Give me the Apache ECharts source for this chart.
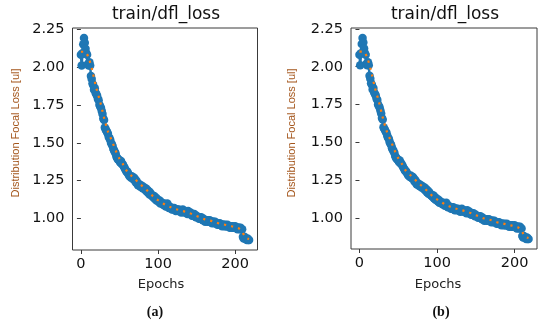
<!DOCTYPE html>
<html>
<head>
<meta charset="utf-8">
<script src="https://cdn.jsdelivr.net/npm/echarts@6/dist/echarts.min.js"></script>
<style>
html,body{margin:0;padding:0;background:#fff;}
#chart{width:550px;height:324px;}
</style>
</head>
<body>
<div id="chart"></div>
<script>
// ---- data ----
const chartTitle = "train/dfl_loss";
const yAxisTitle = "Distribution Focal Loss [ul]";
const xAxisTitle = "Epochs";
const panelCaptions = ["(a)", "(b)"];
const xTickValues = [0, 100, 200];
const yTickValues = [1.00, 1.25, 1.50, 1.75, 2.00, 2.25];

// raw train/dfl_loss per epoch (epoch = index)
const lossValues = [
  2.08, 2.01, 2.09, 2.15, 2.19, 2.16, 2.12, 2.09, 2.08, 2.02,
  2.01, 2.03, 2.01, 1.94, 1.92, 1.89, 1.88, 1.85, 1.86, 1.83,
  1.82, 1.81, 1.79, 1.78, 1.75, 1.74, 1.73, 1.71, 1.69, 1.66,
  1.65, 1.60, 1.59, 1.58, 1.57, 1.56, 1.54, 1.53, 1.52, 1.50,
  1.49, 1.48, 1.46, 1.45, 1.44, 1.43, 1.41, 1.40, 1.39, 1.39,
  1.38, 1.37, 1.38, 1.36, 1.36, 1.35, 1.34, 1.33, 1.32, 1.31,
  1.31, 1.30, 1.29, 1.28, 1.28, 1.27, 1.28, 1.27, 1.26, 1.27,
  1.26, 1.24, 1.25, 1.23, 1.22, 1.23, 1.22, 1.21, 1.22, 1.21,
  1.20, 1.21, 1.20, 1.19, 1.20, 1.18, 1.19, 1.17, 1.18, 1.16,
  1.17, 1.16, 1.15, 1.15, 1.14, 1.15, 1.13, 1.14, 1.12, 1.13,
  1.12, 1.11, 1.12, 1.10, 1.11, 1.10, 1.10, 1.09, 1.10, 1.09,
  1.08, 1.09, 1.10, 1.08, 1.07, 1.08, 1.07, 1.07, 1.06, 1.07,
  1.06, 1.07, 1.06, 1.05, 1.06, 1.06, 1.05, 1.06, 1.05, 1.05,
  1.04, 1.05, 1.06, 1.05, 1.04, 1.05, 1.04, 1.04, 1.03, 1.05,
  1.04, 1.03, 1.04, 1.03, 1.02, 1.03, 1.02, 1.03, 1.02, 1.01,
  1.02, 1.01, 1.01, 1.00, 1.01, 1.00, 1.01, 1.00, 0.99, 1.00,
  0.99, 0.98, 0.99, 0.99, 0.98, 0.99, 0.98, 0.99, 0.98, 0.98,
  0.97, 0.98, 0.98, 0.97, 0.98, 0.97, 0.97, 0.96, 0.97, 0.96,
  0.97, 0.96, 0.96, 0.95, 0.96, 0.96, 0.95, 0.96, 0.95, 0.95,
  0.96, 0.95, 0.95, 0.94, 0.95, 0.95, 0.94, 0.95, 0.94, 0.94,
  0.95, 0.94, 0.94, 0.93, 0.94, 0.94, 0.93, 0.94, 0.93, 0.93,
  0.88, 0.87, 0.88, 0.87, 0.87, 0.86, 0.87, 0.86, 0.86
];

// smoothed curve (orange dotted), read at these epochs
const smoothEpochs = [0, 5, 10, 15, 20, 25, 30, 35, 40, 45, 50, 55, 60, 65, 70, 75, 80, 85, 90, 95,
  100, 105, 110, 115, 120, 125, 130, 135, 140, 145, 150, 155, 160, 165, 170, 175, 180, 185, 190, 195,
  200, 205, 208, 210, 212, 215, 218];
const smoothValues = [2.10, 2.10, 2.06, 1.97, 1.86, 1.77, 1.665, 1.575, 1.515, 1.45, 1.395, 1.355, 1.31, 1.285, 1.262, 1.235, 1.213, 1.19, 1.165, 1.14,
  1.122, 1.105, 1.09, 1.078, 1.068, 1.06, 1.053, 1.046, 1.038, 1.028, 1.017, 1.007, 0.997, 0.99, 0.984, 0.975, 0.967, 0.962, 0.956, 0.95,
  0.944, 0.935, 0.922, 0.905, 0.888, 0.872, 0.866];

// ---- chart ----
const rawPairs = lossValues.map((v, i) => [i, v]);
const smoothPairs = smoothEpochs.map((e, i) => [e, smoothValues[i]]);

const panels = [
  {left: 72.5, top: 28, width: 185, height: 222, titleX: 166, ylabX: 16, epochsX: 161, capX: 155},
  {left: 351, top: 28, width: 186, height: 221, titleX: 445, ylabX: 292, epochsX: 438, capX: 441}
];

const tickFont = {fontFamily: 'DejaVu Sans', fontSize: 14.5, color: '#111'};
const grids = [], xAxes = [], yAxes = [], series = [], graphics = [];

panels.forEach((p, k) => {
  grids.push({left: p.left, top: p.top, width: p.width, height: p.height,
    show: true, borderColor: '#3a3a3a', borderWidth: 1, backgroundColor: 'transparent', containLabel: false});
  xAxes.push({type: 'value', gridIndex: k, min: -10.9, max: 228.9,
    axisLine: {show: false}, splitLine: {show: false},
    axisTick: {show: true, length: 4, lineStyle: {color: '#3a3a3a'}, customValues: xTickValues},
    axisLabel: Object.assign({margin: 7, customValues: xTickValues, formatter: v => String(Math.round(v))}, tickFont)});
  yAxes.push({type: 'value', gridIndex: k, min: 0.7935, max: 2.2565,
    axisLine: {show: false}, splitLine: {show: false},
    axisTick: {show: true, length: 4, lineStyle: {color: '#3a3a3a'}, customValues: yTickValues},
    axisLabel: Object.assign({margin: 8, customValues: yTickValues, formatter: v => v.toFixed(2)}, tickFont)});
  series.push({type: 'line', xAxisIndex: k, yAxisIndex: k, data: rawPairs,
    symbol: 'circle', symbolSize: 8.5, showSymbol: true,
    itemStyle: {color: '#1f77b4'}, lineStyle: {color: '#1f77b4', width: 2.5},
    animation: false, z: 2});
  series.push({type: 'line', xAxisIndex: k, yAxisIndex: k, data: smoothPairs,
    smooth: 0.3, showSymbol: false, symbol: 'none',
    lineStyle: {color: '#ff7f0e', width: 2.2, type: [2.2, 5], cap: 'butt'},
    animation: false, z: 3});
  graphics.push({type: 'text', x: p.titleX, y: 15, style: {text: chartTitle, fontFamily: 'DejaVu Sans', fontSize: 17, fill: '#111', align: 'center', verticalAlign: 'middle'}});
  graphics.push({type: 'text', x: p.ylabX, y: 133, rotation: Math.PI / 2, style: {text: yAxisTitle, fontFamily: 'Liberation Sans', fontSize: 11, fill: '#a4561c', align: 'center', verticalAlign: 'middle'}});
  graphics.push({type: 'text', x: p.epochsX, y: 285, style: {text: xAxisTitle, fontFamily: 'DejaVu Sans', fontSize: 13, fill: '#222', align: 'center', verticalAlign: 'middle'}});
  graphics.push({type: 'text', x: p.capX, y: 312, style: {text: panelCaptions[k], fontFamily: 'Liberation Serif', fontWeight: 'bold', fontSize: 14, fill: '#111', align: 'center', verticalAlign: 'middle'}});
});

const chart = echarts.init(document.getElementById('chart'), null, {renderer: 'canvas'});
chart.setOption({
  animation: false,
  backgroundColor: '#fff',
  grid: grids, xAxis: xAxes, yAxis: yAxes, series: series, graphic: graphics
});
</script>
</body>
</html>
